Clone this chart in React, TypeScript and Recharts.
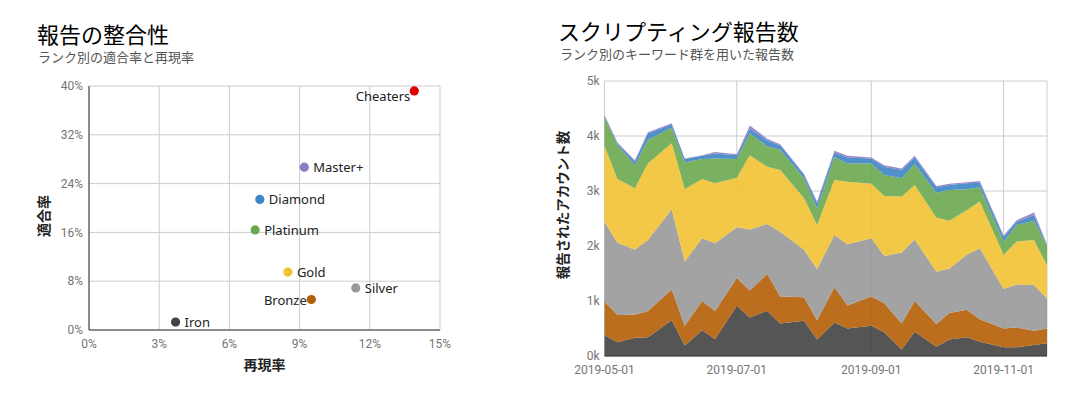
import React from 'react'
import {
  Area,
  AreaChart,
  CartesianGrid,
  Cell,
  Label,
  Scatter,
  ScatterChart,
  XAxis,
  YAxis,
} from 'recharts'

// --- 報告の整合性 (scatter) ---
const rankNames = ['Iron', 'Bronze', 'Silver', 'Gold', 'Platinum', 'Diamond', 'Master+', 'Cheaters']
const recallPct = [3.7, 9.5, 11.4, 8.5, 7.1, 7.3, 9.2, 13.9]
const precisionPct = [1.3, 5.0, 6.9, 9.5, 16.4, 21.4, 26.7, 39.2]
const recallTicks = [0, 3, 6, 9, 12, 15]
const precisionTicks = [0, 8, 16, 24, 32, 40]

// --- スクリプティング報告数 (stacked area) ---
const reportDates = [
  '2019-05-01', '2019-05-07', '2019-05-15', '2019-05-21',
  '2019-06-01', '2019-06-07', '2019-06-15', '2019-06-21',
  '2019-07-01', '2019-07-07', '2019-07-15', '2019-07-21',
  '2019-08-01', '2019-08-07', '2019-08-15', '2019-08-21',
  '2019-09-01', '2019-09-07', '2019-09-15', '2019-09-21',
  '2019-10-01', '2019-10-07', '2019-10-15', '2019-10-21',
  '2019-11-01', '2019-11-07', '2019-11-15', '2019-11-21',
]
const ironCounts = [376, 250, 333, 340, 650, 190, 470, 310, 915, 700, 820, 590, 640, 300, 610, 500, 550, 430, 120, 440, 170, 300, 340, 260, 160, 160, 200, 230]
const bronzeCounts = [614, 495, 417, 480, 560, 360, 530, 510, 505, 490, 670, 490, 430, 350, 640, 420, 530, 530, 470, 560, 410, 480, 500, 410, 340, 360, 260, 270]
const silverCounts = [1450, 1315, 1180, 1290, 1460, 1170, 1140, 1230, 920, 1110, 910, 1180, 860, 930, 950, 1110, 1060, 860, 1290, 1120, 950, 810, 1000, 1290, 720, 780, 830, 540]
const goldCounts = [1380, 1160, 1120, 1390, 1200, 1310, 1080, 1090, 900, 1350, 1040, 1120, 940, 800, 1000, 1140, 990, 1090, 1020, 990, 990, 870, 810, 850, 620, 780, 820, 610]
const platinumCounts = [510, 620, 420, 430, 280, 490, 360, 450, 340, 400, 370, 370, 360, 300, 420, 330, 370, 380, 330, 380, 450, 560, 380, 260, 240, 300, 350, 350]
const diamondCounts = [30, 30, 60, 120, 60, 60, 60, 90, 70, 80, 110, 80, 60, 100, 80, 110, 90, 150, 150, 120, 100, 90, 110, 80, 90, 60, 100, 20]
const masterCounts = [20, 10, 30, 20, 20, 10, 10, 30, 20, 60, 30, 20, 20, 30, 30, 30, 20, 30, 30, 30, 20, 20, 20, 30, 20, 30, 50, 10]
const dateTicks = ['2019-05-01', '2019-07-01', '2019-09-01', '2019-11-01']
const countTicks = [0, 1000, 2000, 3000, 4000, 5000]

const rankColors: Record<string, string> = {
  Iron: '#434343',
  Bronze: '#b45f06',
  Silver: '#999999',
  Gold: '#f1c232',
  Platinum: '#6aa84f',
  Diamond: '#3d85c6',
  'Master+': '#8e7cc3',
  Cheaters: '#dd0000',
}

const scatterData = rankNames.map((name, i) => ({ name, x: recallPct[i], y: precisionPct[i] }))

const areaSeries = [
  { key: 'Iron', values: ironCounts },
  { key: 'Bronze', values: bronzeCounts },
  { key: 'Silver', values: silverCounts },
  { key: 'Gold', values: goldCounts },
  { key: 'Platinum', values: platinumCounts },
  { key: 'Diamond', values: diamondCounts },
  { key: 'Master+', values: masterCounts },
]

const areaData = reportDates.map((d, i) => {
  const row: Record<string, number> = { t: Date.parse(d) }
  areaSeries.forEach((s) => { row[s.key] = s.values[i] })
  return row
})

const JP = '"Noto Sans CJK JP", "Noto Sans", sans-serif'
const tickStyle = { fill: '#757575', fontSize: 12, fontFamily: 'Roboto, sans-serif' }

const RankDot = (props: any) => {
  const { cx, cy, fill, payload } = props
  const name = payload.name
  let tx = cx + 9
  let ty = cy
  let anchor = 'start'
  if (name === 'Cheaters') { tx = cx - 4; ty = cy + 5; anchor = 'end' }
  if (name === 'Bronze') { tx = cx - 4.5; anchor = 'end' }
  return (
    <g>
      <circle cx={cx} cy={cy} r={4.6} fill={fill} />
      <text x={tx} y={ty} textAnchor={anchor} dominantBaseline="central"
        fontSize={13} fontFamily='"Noto Sans", sans-serif' fill="#222">{name}</text>
    </g>
  )
}

const fmtDate = (v: number) => new Date(v).toISOString().slice(0, 10)

export default function App() {
  return (
    <div style={{ position: 'absolute', left: 0, top: 0, width: 1080, height: 400, background: '#fff', fontFamily: JP }}>
      <div style={{ position: 'absolute', left: 37, top: 22, fontSize: 22, lineHeight: '22px', color: '#000' }}>報告の整合性</div>
      <div style={{ position: 'absolute', left: 38, top: 50, fontSize: 13, lineHeight: '13px', color: '#555' }}>ランク別の適合率と再現率</div>
      <div style={{ position: 'absolute', left: 558, top: 19, fontSize: 22, lineHeight: '22px', color: '#000' }}>スクリプティング報告数</div>
      <div style={{ position: 'absolute', left: 560, top: 47, fontSize: 13, lineHeight: '13px', color: '#555' }}>ランク別のキーワード群を用いた報告数</div>

      <div style={{ position: 'absolute', left: 0, top: 0 }}>
        <ScatterChart width={540} height={400} margin={{ top: 86, right: 100, bottom: 0, left: 0 }}>
          <CartesianGrid stroke="#cccccc" />
          <XAxis type="number" dataKey="x" domain={[0, 15]} ticks={recallTicks}
            tickFormatter={(v: number) => `${v}%`} tick={tickStyle} tickLine={false}
            tickSize={0} tickMargin={9} height={70} axisLine={{ stroke: '#333' }}>
            <Label value="再現率" position="center" fontSize={14} fontWeight="bold" fill="#222" fontFamily={JP} />
          </XAxis>
          <YAxis type="number" dataKey="y" domain={[0, 40]} ticks={precisionTicks}
            tickFormatter={(v: number) => `${v}%`} tick={tickStyle} tickLine={false}
            tickSize={0} tickMargin={6} width={89} axisLine={{ stroke: '#333' }}>
            <Label value="適合率" position="center" angle={-90} dy={8} fontSize={14} fontWeight="bold" fill="#222" fontFamily={JP} />
          </YAxis>
          <Scatter data={scatterData} shape={RankDot} isAnimationActive={false}>
            {scatterData.map((d) => <Cell key={d.name} fill={rankColors[d.name]} />)}
          </Scatter>
        </ScatterChart>
      </div>

      <div style={{ position: 'absolute', left: 540, top: 0 }}>
        <AreaChart width={540} height={400} data={areaData} margin={{ top: 81, right: 33, bottom: 0, left: 0 }}>
          <CartesianGrid stroke="#cccccc" />
          <XAxis type="number" dataKey="t" domain={['dataMin', 'dataMax']} ticks={dateTicks.map((d) => Date.parse(d))}
            tickFormatter={fmtDate} tick={tickStyle} tickLine={false} tickSize={0} tickMargin={9}
            height={44} axisLine={{ stroke: '#333' }} />
          <YAxis type="number" domain={[0, 5000]} ticks={countTicks}
            tickFormatter={(v: number) => `${v / 1000}k`} tick={tickStyle} tickLine={false}
            tickSize={0} tickMargin={5} width={64.5} axisLine={false}>
            <Label value="報告されたアカウント数" position="center" angle={-90} dx={-9.5} dy={-13.5}
              fontSize={13.5} fontWeight="bold" fill="#222" fontFamily={JP} />
          </YAxis>
          {areaSeries.map((s) => (
            <Area key={s.key} type="linear" dataKey={s.key} stackId="ranks" stroke="none"
              fill={rankColors[s.key]} fillOpacity={0.9} isAnimationActive={false} />
          ))}
        </AreaChart>
      </div>
    </div>
  )
}
